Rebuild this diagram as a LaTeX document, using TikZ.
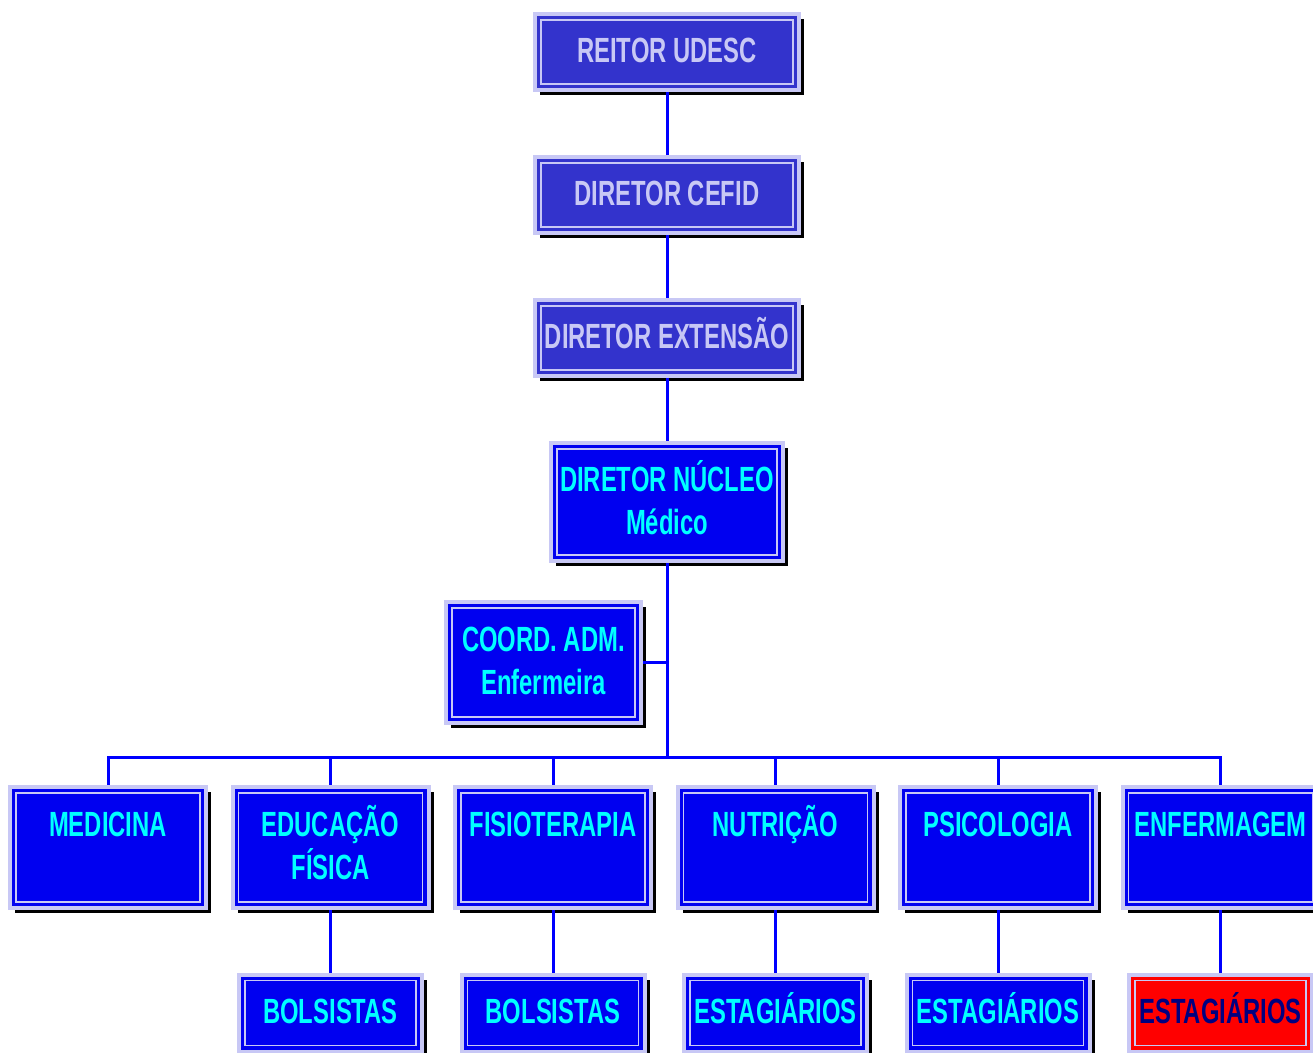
\documentclass[tikz,border=0pt]{standalone}
\usepackage{fontspec}
\newfontfamily\nf{Liberation Sans}[FakeStretch=0.68]
\usetikzlibrary{shadows}
\definecolor{lav}{HTML}{C8C8F5}
\definecolor{topfill}{HTML}{3333CC}
\definecolor{bfill}{HTML}{0000F0}
\definecolor{cyantext}{HTML}{00FFFF}
\definecolor{navytext}{HTML}{000080}
\definecolor{redfill}{HTML}{FF0000}
\definecolor{linkblue}{HTML}{0000FF}
\newcommand\ms{\rule[-9pt]{0pt}{43pt}}
\newcommand\me{\rule[-13pt]{0pt}{47pt}}
\begin{document}
\begin{tikzpicture}[x=1pt,y=-1pt,
  box/.style={draw=lav, line width=4pt, fill=bfill, text=cyantext,
    font=\nf\bfseries\fontsize{35}{43}\selectfont, align=center, inner sep=0pt,
    drop shadow={shadow xshift=5pt, shadow yshift=-5pt, fill=black, opacity=1},
    path picture={\draw[lav,line width=1.3pt]
      ([shift={(6pt,-6pt)}]path picture bounding box.north west) rectangle
      ([shift={(-6pt,6pt)}]path picture bounding box.south east);}},
  topbox/.style={box, fill=topfill, text=lav, minimum width=264pt, minimum height=76pt},
  rowbox/.style={box, minimum width=196pt, minimum height=121pt},
  lowbox/.style={box, minimum width=183pt, minimum height=77pt},
  redbox/.style={lowbox, fill=redfill, text=navytext},
  link/.style={draw=linkblue, line width=3pt}]
\useasboundingbox (0,0) rectangle (1313,1052);

\node[topbox] (reitor) at (667,52) {\me REITOR UDESC};
\node[topbox] (cefid) at (667,195) {\me DIRETOR CEFID};
\node[topbox] (ext) at (667,338) {\me DIRETOR EXTENSÃO};
\node[box, minimum width=232pt, minimum height=118pt] (nucleo) at (667,502) {\ms DIRETOR NÚCLEO\\\me Médico};
\node[box, minimum width=195pt, minimum height=121pt] (coord) at (543.5,662.5) {\ms COORD. ADM.\\\me Enfermeira};

\node[rowbox] (med) at (108,847.5) {\ms MEDICINA\\\me};
\node[rowbox] (edf) at (330.5,847.5) {\ms EDUCAÇÃO\\\me FÍSICA};
\node[rowbox] (fis) at (553,847.5) {\ms FISIOTERAPIA\\\me};
\node[rowbox] (nut) at (775.5,847.5) {\ms NUTRIÇÃO\\\me};
\node[rowbox] (psi) at (998,847.5) {\ms PSICOLOGIA\\\me};
\node[rowbox] (enf) at (1220.5,847.5) {\ms ENFERMAGEM\\\me};

\node[lowbox] (bol1) at (330.5,1013) {\me BOLSISTAS};
\node[lowbox] (bol2) at (553,1013) {\me BOLSISTAS};
\node[lowbox] (est1) at (775.5,1013) {\me ESTAGIÁRIOS};
\node[lowbox] (est2) at (998,1013) {\me ESTAGIÁRIOS};
\node[redbox] (est3) at (1220.5,1013) {\me ESTAGIÁRIOS};

\coordinate (bus) at (667,757);

\path[link] (reitor.south) -- (cefid.north);
\path[link] (cefid.south) -- (ext.north);
\path[link] (ext.south) -- (nucleo.north);
\path[link] (nucleo.south) -- (bus);
\path[link] (coord.east) -- (coord.east -| nucleo.south);
\path[link] (bus) -| (med.north);
\path[link] (bus) -| (edf.north);
\path[link] (bus) -| (fis.north);
\path[link] (bus) -| (nut.north);
\path[link] (bus) -| (psi.north);
\path[link] (bus) -| (enf.north);
\path[link] (edf.south) -- (bol1.north);
\path[link] (fis.south) -- (bol2.north);
\path[link] (nut.south) -- (est1.north);
\path[link] (psi.south) -- (est2.north);
\path[link] (enf.south) -- (est3.north);
\end{tikzpicture}
\end{document}
